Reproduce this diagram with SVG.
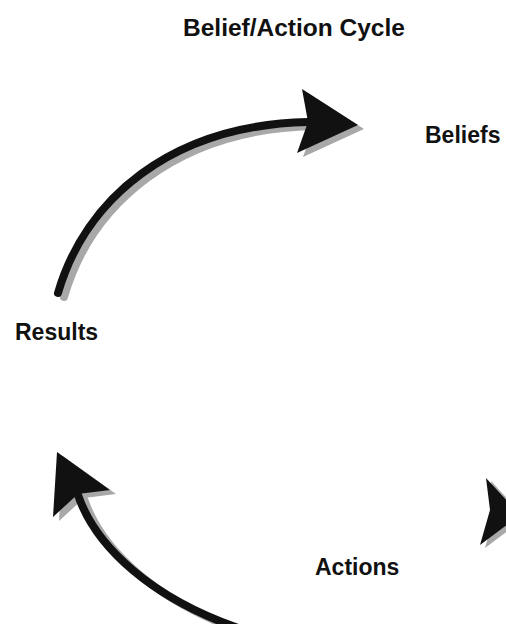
<svg xmlns="http://www.w3.org/2000/svg" width="506" height="624" viewBox="0 0 506 624">
<style>
.lbl{font-family:"Liberation Sans",Arial,sans-serif;font-weight:bold;font-size:23px;fill:#111}
.ttl{font-size:24.5px}
.shaft{fill:none;stroke:#111;stroke-width:8;stroke-linecap:round}
.shaftS{fill:none;stroke:#a8a8a8;stroke-width:8;stroke-linecap:round}
.head{fill:#111}
.headS{fill:#a8a8a8}
</style>
<rect width="506" height="624" fill="#fff"/>
<g id="title"><text class="lbl ttl" x="183" y="35.5">Belief/Action Cycle</text></g>
<g id="beliefs"><text class="lbl" x="425" y="143">Beliefs</text></g>
<g id="results"><text class="lbl" x="15" y="340">Results</text></g>
<g id="actions"><text class="lbl" x="315" y="575">Actions</text></g>
<g id="connectors">
  <g id="arrow-results-beliefs">
    <g transform="translate(6,4)">
      <path class="shaftS" d="M58,293 C85,200 170,125 308,122"/>
      <polygon class="headS" points="358,125 302,89 308,122 297,153"/>
    </g>
    <path class="shaft" d="M58,293 C85,200 170,125 308,122"/>
    <polygon class="head" points="358,125 302,89 308,122 297,153"/>
  </g>
  <g id="arrow-actions-results">
    <g transform="translate(6,4)">
      <path class="shaftS" d="M78,495 C95,545 150,600 250,632"/>
      <polygon class="headS" points="57,452 110,490 78,494 53,517"/>
    </g>
    <path class="shaft" d="M78,495 C95,545 150,600 250,632"/>
    <polygon class="head" points="57,452 110,490 78,494 53,517"/>
  </g>
  <g id="arrow-beliefs-actions">
    <polygon class="headS" transform="translate(5,3)" points="486,478 520,515 480,545 490,510"/>
    <polygon class="head" points="486,478 520,515 480,545 490,510"/>
  </g>
</g>
</svg>
